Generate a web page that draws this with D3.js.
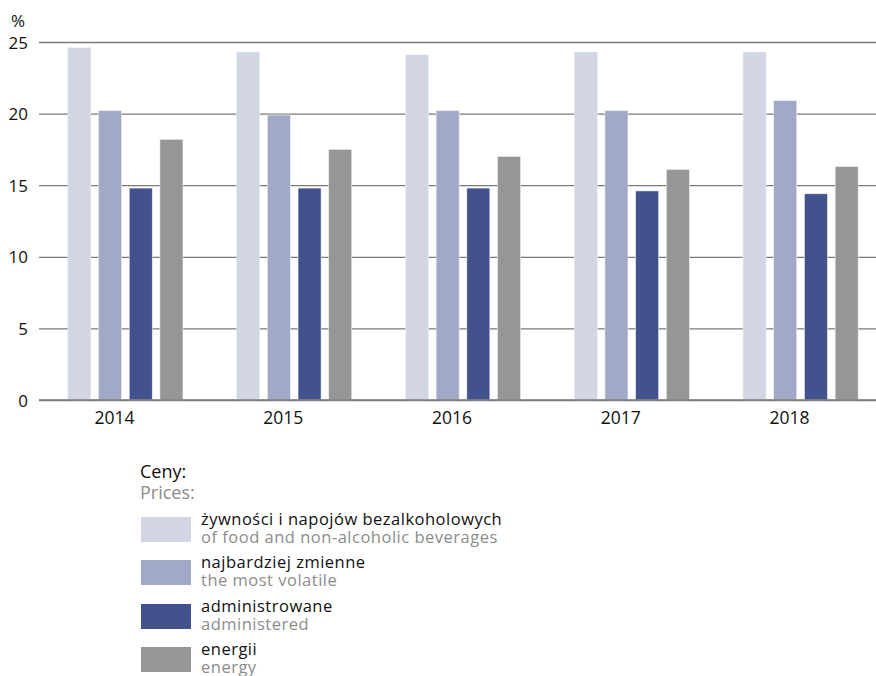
<!DOCTYPE html>
<html><head><meta charset="utf-8">
<script src="https://cdn.jsdelivr.net/npm/d3@7"></script>
<style>body{margin:0;background:#fff}svg{display:block}text{font-family:"Open Sans",sans-serif}</style>
</head><body><svg id="c" width="876" height="676"></svg>
<script>
const years = ["2014","2015","2016","2017","2018"];
const seriesPl = ["żywności i napojów bezalkoholowych","najbardziej zmienne","administrowane","energii"];
const seriesEn = ["of food and non-alcoholic beverages","the most volatile","administered","energy"];
const colors = ["#d1d5e4","#a2a9c6","#42528c","#959697"];
const food = [24.6,24.3,24.1,24.3,24.3];
const volatile = [20.2,19.9,20.2,20.2,20.9];
const administered = [14.8,14.8,14.8,14.6,14.4];
const energy = [18.2,17.5,17.0,16.1,16.3];
const yTicks = [0,5,10,15,20,25];
const values = [food, volatile, administered, energy];

const svg = d3.select("#c");
const x0 = d3.scaleBand().domain(years).range([41,885]).paddingInner(0.318).paddingOuter(0.159);
const x1 = d3.scaleBand().domain(d3.range(4)).range([0,x0.bandwidth()]).paddingInner(0.25).paddingOuter(0);
const y = d3.scaleLinear().domain([0,25]).range([400,42]);

// gridlines + y axis labels
const yAxis = d3.axisLeft(y).tickValues(yTicks).tickSize(-837).tickPadding(11);
const ga = svg.append("g").attr("transform","translate(39,0)").call(yAxis);
ga.select(".domain").remove();
ga.selectAll(".tick line").attr("stroke","#7a7a7a").attr("stroke-width",1.3);
ga.selectAll(".tick text").attr("font-size",17).attr("fill","#111").attr("dy","0.36em");

// bars
years.forEach((yr,i)=>{
  const g = svg.append("g").attr("transform",`translate(${x0(yr)},0)`);
  g.selectAll("rect").data(values.map((s,k)=>({k,v:s[i]}))).join("rect")
    .attr("x",d=>x1(d.k)).attr("width",x1.bandwidth())
    .attr("y",d=>y(d.v)).attr("height",d=>y(0)-y(d.v))
    .attr("fill",d=>colors[d.k]).attr("stroke","#eceef4").attr("stroke-width",0.6);
});

// x axis
svg.append("line").attr("x1",39).attr("x2",876).attr("y1",y(0)).attr("y2",y(0))
  .attr("stroke","#7a7a7a").attr("stroke-width",1.3);
const xa = svg.append("g").attr("transform","translate(-11,400)").call(d3.axisBottom(x0).tickSize(0).tickPadding(12));
xa.select(".domain").remove();
xa.selectAll(".tick text").attr("font-size",17.5).attr("fill","#111");

svg.append("text").attr("x",11).attr("y",27).attr("font-size",17).attr("fill","#111").text("%");

// legend
svg.append("text").attr("x",140).attr("y",478).attr("font-size",18).attr("fill","#111").text("Ceny:");
svg.append("text").attr("x",140).attr("y",499).attr("font-size",18).attr("fill","#8c8c8c").text("Prices:");
const legTop = [517,560,604,647];
seriesPl.forEach((s,k)=>{
  svg.append("rect").attr("x",141).attr("y",legTop[k]).attr("width",50).attr("height",25).attr("fill",colors[k]);
  svg.append("text").attr("x",201).attr("y",legTop[k]+8).attr("font-size",16.5).attr("letter-spacing",0.5).attr("fill","#111").text(s);
  svg.append("text").attr("x",201).attr("y",legTop[k]+25.5).attr("font-size",16.5).attr("letter-spacing",0.5).attr("fill","#8c8c8c").text(seriesEn[k]);
});
</script></body></html>
